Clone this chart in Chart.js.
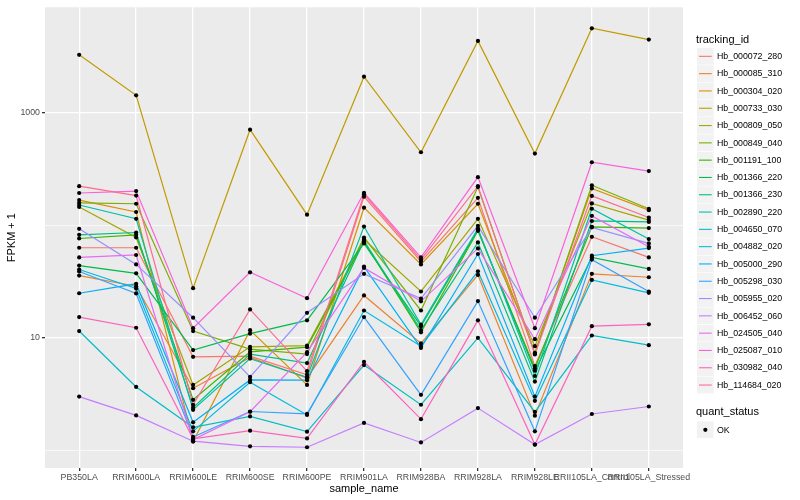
<!DOCTYPE html>
<html>
<head>
<meta charset="utf-8">
<script src="https://cdn.jsdelivr.net/npm/chart.js@4"></script>
<style>
  body { margin: 0; background: #fff; }
</style>
</head>
<body>
<canvas id="fpkmChart" width="800" height="500"></canvas>
<script>
// categories on the x axis
let sampleNames = ["PB350LA", "RRIM600LA", "RRIM600LE", "RRIM600SE", "RRIM600PE", "RRIM901LA",
  "RRIM928BA", "RRIM928LA", "RRIM928LE", "RRII105LA_Control", "RRII105LA_Stressed"];

let trackingIds = ["Hb_000072_280", "Hb_000085_310", "Hb_000304_020", "Hb_000733_030", "Hb_000809_050",
  "Hb_000849_040", "Hb_001191_100", "Hb_001366_220", "Hb_001366_230", "Hb_002890_220",
  "Hb_004650_070", "Hb_004882_020", "Hb_005000_290", "Hb_005298_030", "Hb_005955_020",
  "Hb_006452_060", "Hb_024505_040", "Hb_025087_010", "Hb_030982_040", "Hb_114684_020"];

// ggplot hue palette, 20 levels
let trackColors = ["#F8766D", "#EA8331", "#D89000", "#C09B00", "#A3A500", "#7CAE00", "#39B600", "#00BB4E",
  "#00BF7D", "#00C1A3", "#00BFC4", "#00BAE0", "#00B0F6", "#35A2FF", "#9590FF", "#C77CFF",
  "#E76BF3", "#FA62DB", "#FF62BC", "#FF6C91"];

// FPKM + 1, one value per sample
let hb000072_280 = [63.1, 63.1, 6.79, 6.89, 4.71, 179, 47.5, 175, 5.62, 78.9, 51.8];
let hb000085_310 = [35.7, 28.7, 3.57, 6.71, 4.41, 23.8, 8.92, 36.2, 2.04, 37.0, 34.5];
let hb000304_020 = [167, 131, 1.20, 11.7, 3.82, 143, 44.9, 155, 7.37, 212, 136];
let hb000733_030 = [3251, 1421, 27.6, 704, 124, 2079, 444, 4321, 432, 5593, 4436];
let hb000809_050 = [145, 77.8, 3.82, 8.32, 8.53, 74.7, 25.8, 114, 8.44, 156, 111];
let hb000849_040 = [158, 155, 11.5, 7.94, 7.18, 77.8, 17.5, 218, 7.25, 226, 140];
let hb001191_100 = [76.2, 82.2, 2.82, 7.52, 8.27, 71.3, 11.2, 89.2, 5.37, 96.7, 94.2];
let hb001366_220 = [43.8, 37.4, 7.79, 10.9, 14.3, 68.9, 12.7, 90.9, 5.11, 51.8, 40.9];
let hb001366_230 = [82.2, 86.1, 2.40, 7.18, 5.98, 72.8, 11.7, 70.3, 4.09, 109, 107];
let hb002890_220 = [151, 114, 2.30, 6.55, 4.47, 97.3, 13.1, 93.4, 4.59, 140, 75.3];
let hb004650_070 = [11.5, 3.67, 1.61, 2.01, 1.47, 5.74, 2.55, 10.0, 2.20, 10.5, 8.62];
let hb004882_020 = [40.4, 27.4, 1.48, 4.04, 2.07, 17.5, 8.44, 39.0, 2.76, 32.7, 25.1];
let hb005000_290 = [24.9, 30.2, 1.78, 4.23, 4.21, 42.9, 8.15, 55.5, 3.01, 53.6, 62.7];
let hb005298_030 = [38.8, 24.8, 1.32, 2.22, 2.12, 15.3, 3.12, 21.2, 1.48, 49.5, 25.8];
let hb005955_020 = [92.9, 44.9, 15.1, 4.50, 16.7, 37.0, 22.3, 98.7, 15.1, 95.7, 68.9];
let hb006452_060 = [3.01, 2.05, 1.21, 1.09, 1.07, 1.76, 1.18, 2.38, 1.13, 2.11, 2.46];
let hb024505_040 = [51.8, 54.4, 1.25, 2.21, 7.47, 41.8, 21.1, 62.2, 9.73, 121, 64.4];
let hb025087_010 = [193, 201, 12.2, 38.2, 22.5, 194, 51.8, 267, 12.2, 362, 302];
let hb030982_040 = [15.3, 12.3, 1.27, 1.50, 1.28, 6.14, 1.90, 14.3, 1.13, 12.7, 13.2];
let hb114684_020 = [222, 183, 2.55, 17.9, 5.06, 188, 49.5, 222, 7.13, 182, 117];

let seriesValues = [hb000072_280, hb000085_310, hb000304_020, hb000733_030, hb000809_050,
  hb000849_040, hb001191_100, hb001366_220, hb001366_230, hb002890_220,
  hb004650_070, hb004882_020, hb005000_290, hb005298_030, hb005955_020,
  hb006452_060, hb024505_040, hb025087_010, hb030982_040, hb114684_020];

let yMajor = [10, 1000];
let yBreaks = [1, 10, 100, 1000];

let fontName = "'Liberation Sans', Arial, Helvetica, sans-serif";

// build the datasets
let datasets = [];
let allPoints = [];
for (let i = 0; i < seriesValues.length; i++) {
  let pts = seriesValues[i].map((v, j) => ({ x: j, y: v }));
  pts.forEach((p) => allPoints.push(p));
  datasets.push({
    label: trackingIds[i],
    data: pts,
    borderColor: trackColors[i],
    backgroundColor: trackColors[i],
    borderWidth: 1.2,
    pointRadius: 0,
    tension: 0,
    fill: false,
    order: seriesValues.length - i,
  });
}
datasets.push({
  label: "OK",
  data: allPoints,
  showLine: false,
  pointRadius: 2.1,
  pointBackgroundColor: "#000",
  pointBorderWidth: 0,
  borderColor: "#000",
  order: -1,
});

// grey panel behind the data
let panelBg = {
  id: "panelBg",
  beforeDraw(chart) {
    let a = chart.chartArea;
    let ctx = chart.ctx;
    ctx.save();
    ctx.fillStyle = "#EBEBEB";
    ctx.fillRect(a.left, a.top, a.right - a.left, a.bottom - a.top);
    ctx.restore();
  },
};

// ggplot style legend on the right
let sideLegend = {
  id: "sideLegend",
  afterDraw(chart) {
    let ctx = chart.ctx;
    let x0 = 697;
    let step = 17.3;
    let top = 48;
    ctx.save();
    ctx.textBaseline = "alphabetic";
    ctx.fillStyle = "#000";
    ctx.font = "11px " + fontName;
    ctx.fillText("tracking_id", 696, 43);
    ctx.font = "8.8px " + fontName;
    ctx.textBaseline = "middle";
    for (let i = 0; i < trackingIds.length; i++) {
      let y = top + i * step;
      ctx.fillStyle = "#F2F2F2";
      ctx.fillRect(x0, y, step - 0.6, step - 0.6);
      ctx.strokeStyle = trackColors[i];
      ctx.lineWidth = 1.1;
      ctx.beginPath();
      ctx.moveTo(x0 + 2, y + step / 2 - 0.3);
      ctx.lineTo(x0 + step - 2.6, y + step / 2 - 0.3);
      ctx.stroke();
      ctx.fillStyle = "#000";
      ctx.fillText(trackingIds[i], 717, y + step / 2);
    }
    ctx.textBaseline = "alphabetic";
    ctx.font = "11px " + fontName;
    ctx.fillText("quant_status", 696, 415);
    let ky = 421.5;
    ctx.fillStyle = "#F2F2F2";
    ctx.fillRect(x0, ky, step - 0.6, step - 0.6);
    ctx.fillStyle = "#000";
    ctx.beginPath();
    ctx.arc(x0 + step / 2 - 0.3, ky + step / 2 - 0.3, 2.1, 0, Math.PI * 2);
    ctx.fill();
    ctx.font = "8.8px " + fontName;
    ctx.textBaseline = "middle";
    ctx.fillText("OK", 717, ky + step / 2);
    ctx.restore();
  },
};

let chartEle = document.getElementById("fpkmChart");
let fpkmChart = new Chart(chartEle, {
  type: "line",
  data: { datasets: datasets },
  plugins: [panelBg, sideLegend],
  options: {
    responsive: false,
    animation: false,
    devicePixelRatio: 1,
    layout: { padding: { top: 3, right: 117, bottom: 0, left: 0 } },
    plugins: {
      legend: { display: false },
      tooltip: { enabled: false },
    },
    scales: {
      x: {
        type: "linear",
        min: -0.6,
        max: 10.6,
        afterFit(scale) {
          scale.height = 32;
        },
        afterBuildTicks(scale) {
          scale.ticks = sampleNames.map((n, i) => ({ value: i }));
        },
        border: { display: false },
        grid: {
          color: "#FFFFFF",
          lineWidth: 1.3,
          tickColor: "#333333",
          tickLength: 3,
        },
        ticks: {
          autoSkip: false,
          maxRotation: 0,
          minRotation: 0,
          padding: 1,
          color: "#4D4D4D",
          font: { family: fontName, size: 8.8 },
          callback: (v) => sampleNames[v],
        },
        title: {
          display: true,
          text: "sample_name",
          color: "#000",
          font: { family: fontName, size: 11 },
          padding: { top: 0, bottom: 4 },
        },
      },
      y: {
        type: "logarithmic",
        min: 0.7,
        max: 8590,
        afterFit(scale) {
          scale.width = 45;
        },
        afterBuildTicks(scale) {
          scale.ticks = yBreaks.map((v) => ({ value: v, major: yMajor.includes(v) }));
        },
        border: { display: false },
        grid: {
          color: "#FFFFFF",
          lineWidth: (c) => (c.tick && yMajor.includes(c.tick.value) ? 1.3 : 0.65),
          tickColor: (c) => (c.tick && yMajor.includes(c.tick.value) ? "#333333" : "rgba(0,0,0,0)"),
          tickLength: 3,
        },
        ticks: {
          padding: 2,
          color: "#4D4D4D",
          font: { family: fontName, size: 8.8 },
          callback: (v) => (yMajor.includes(v) ? String(v) : ""),
        },
        title: {
          display: true,
          text: "FPKM + 1",
          color: "#000",
          font: { family: fontName, size: 11 },
          padding: { top: 5, bottom: 0 },
        },
      },
    },
  },
});
</script>
</body>
</html>
